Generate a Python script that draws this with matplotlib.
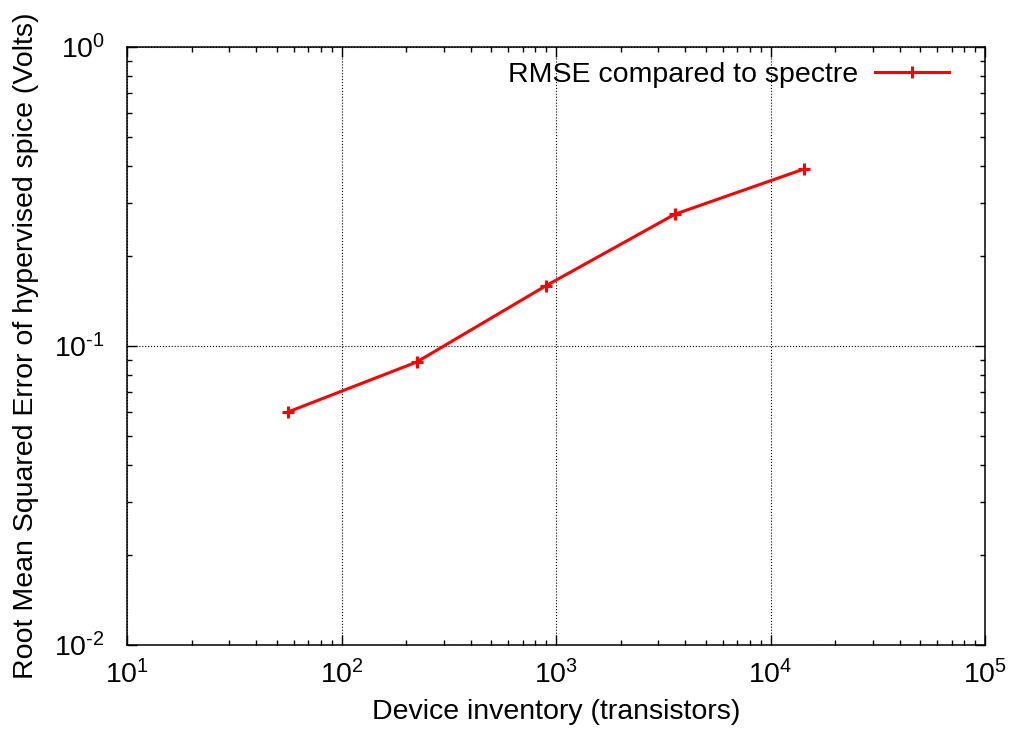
import numpy as np
import matplotlib.pyplot as plt
from matplotlib.ticker import FuncFormatter

plt.rcParams['font.family'] = ['Liberation Sans', 'DejaVu Sans']
plt.rcParams['mathtext.fontset'] = 'custom'
plt.rcParams['mathtext.rm'] = 'Liberation Sans'
plt.rcParams['mathtext.default'] = 'regular'

# device count vs RMSE against spectre
transistors = [56, 224, 896, 3584, 14336]
rmse = [0.0601, 0.0884, 0.159, 0.276, 0.391]


def pow10(v, pos):
    e = int(round(np.log10(v)))
    return r'$10^{\text{%d}}$' % e


fig = plt.figure(figsize=(10.13, 7.36), dpi=100)
ax = fig.add_axes([0.1254, 0.1236, 0.847, 0.8125])

ax.plot(transistors, rmse, color='red', lw=2.2, marker='+', ms=8, mew=2.2,
        label='RMSE compared to spectre')

ax.set_xscale('log')
ax.set_yscale('log')
ax.set_xlim(10, 1e5)
ax.set_ylim(1e-2, 1)
ax.xaxis.set_major_formatter(FuncFormatter(pow10))
ax.yaxis.set_major_formatter(FuncFormatter(pow10))

ax.grid(True, which='major', color='black', linestyle=':', linewidth=0.8)
ax.tick_params(which='both', direction='in', top=True, right=True, labelsize=20.5, width=1)
ax.tick_params(which='major', length=7)
ax.tick_params(axis='y', which='major', pad=16)
ax.tick_params(axis='x', which='major', pad=11)
ax.tick_params(which='minor', length=3.5)
for s in ax.spines.values():
    s.set_linewidth(1.1)

ax.set_xlabel('Device inventory (transistors)', fontsize=20.5, labelpad=7)
ax.set_ylabel('Root Mean Squared Error of hypervised spice (Volts)', fontsize=20.5, labelpad=11)

ax.legend(loc='upper right', bbox_to_anchor=(0.985, 1.013), frameon=False,
          markerfirst=False, fontsize=20.5, handlelength=2.6,
          borderaxespad=0.4, handletextpad=0.6)

fig.savefig('out.png', dpi=100)
